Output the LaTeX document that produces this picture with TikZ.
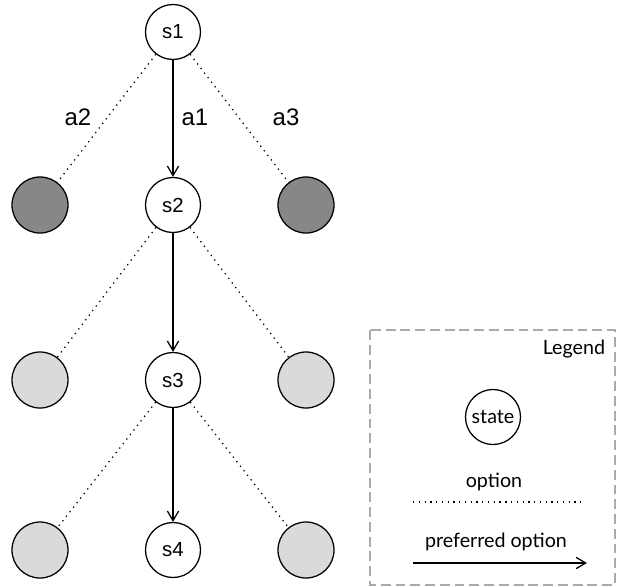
\documentclass[tikz,border=0pt]{standalone}
\usepackage{fontspec}
\setmainfont{Liberation Sans}
\newfontfamily\legendfont{Lato}
\usetikzlibrary{arrows.meta}
\definecolor{taken}{RGB}{135,135,135}
\definecolor{untaken}{RGB}{218,218,218}
\definecolor{frame}{RGB}{170,170,170}
\tikzset{
  >={Straight Barb[length=2.4mm,width=2.8mm]},
  state/.style={circle,draw,line width=0.9pt,minimum size=1.375cm,inner sep=0pt,
    font=\fontsize{14.5}{17}\selectfont},
  option/.style={circle,draw,line width=0.9pt,fill=#1,minimum size=1.4cm,inner sep=0pt},
  option/.default=untaken,
  opt/.style={line width=0.9pt,dash pattern=on 0.9pt off 3.2pt},
  pref/.style={->,line width=0.9pt},
  act/.style={font=\fontsize{17}{20}\selectfont},
  legtext/.style={font=\legendfont\fontsize{14}{17}\selectfont},
}

\begin{document}
\begin{tikzpicture}[x=0.025cm,y=-0.025cm]
  \useasboundingbox (0,0) rectangle (617,586);
  % chain of visited states
  \foreach \i/\y in {1/32,2/205,3/380,4/550}
    \node[state] (s\i) at (173,\y) {s\i};
  % options left and right of each state
  \node[option=taken] (l1) at (40,205) {};
  \node[option=taken] (r1) at (306,205) {};
  \foreach \i/\y in {2/380,3/550}{
    \node[option] (l\i) at (40,\y) {};
    \node[option] (r\i) at (306,\y) {};
  }
  \foreach \i/\j in {1/2,2/3,3/4}{
    \draw[opt] (s\i) -- (l\i);
    \draw[opt] (s\i) -- (r\i);
    \draw[pref] (s\i) -- (s\j);
  }
  % action names
  \node[act] (a2) at (78,117) {a2};
  \node[act] (a1) at (195,117) {a1};
  \node[act] (a3) at (286,117) {a3};

  % legend
  \draw[frame,line width=0.8pt,dash pattern=on 7pt off 3.5pt] (370,330) rectangle (615,585);
  \node[legtext,anchor=east] (legtitle) at (610,349) {Legend};
  \node[state,legtext] (st) at (493,417) {state};
  \node[legtext] (optlbl) at (494,482) {option};
  \coordinate (o1) at (413,502);
  \coordinate (o2) at (584,502);
  \draw[opt] (o1) -- (o2);
  \node[legtext] (preflbl) at (496,542) {preferred option};
  \coordinate (p1) at (413,563);
  \coordinate (p2) at (587,563);
  \draw[pref] (p1) -- (p2);
\end{tikzpicture}
\end{document}
